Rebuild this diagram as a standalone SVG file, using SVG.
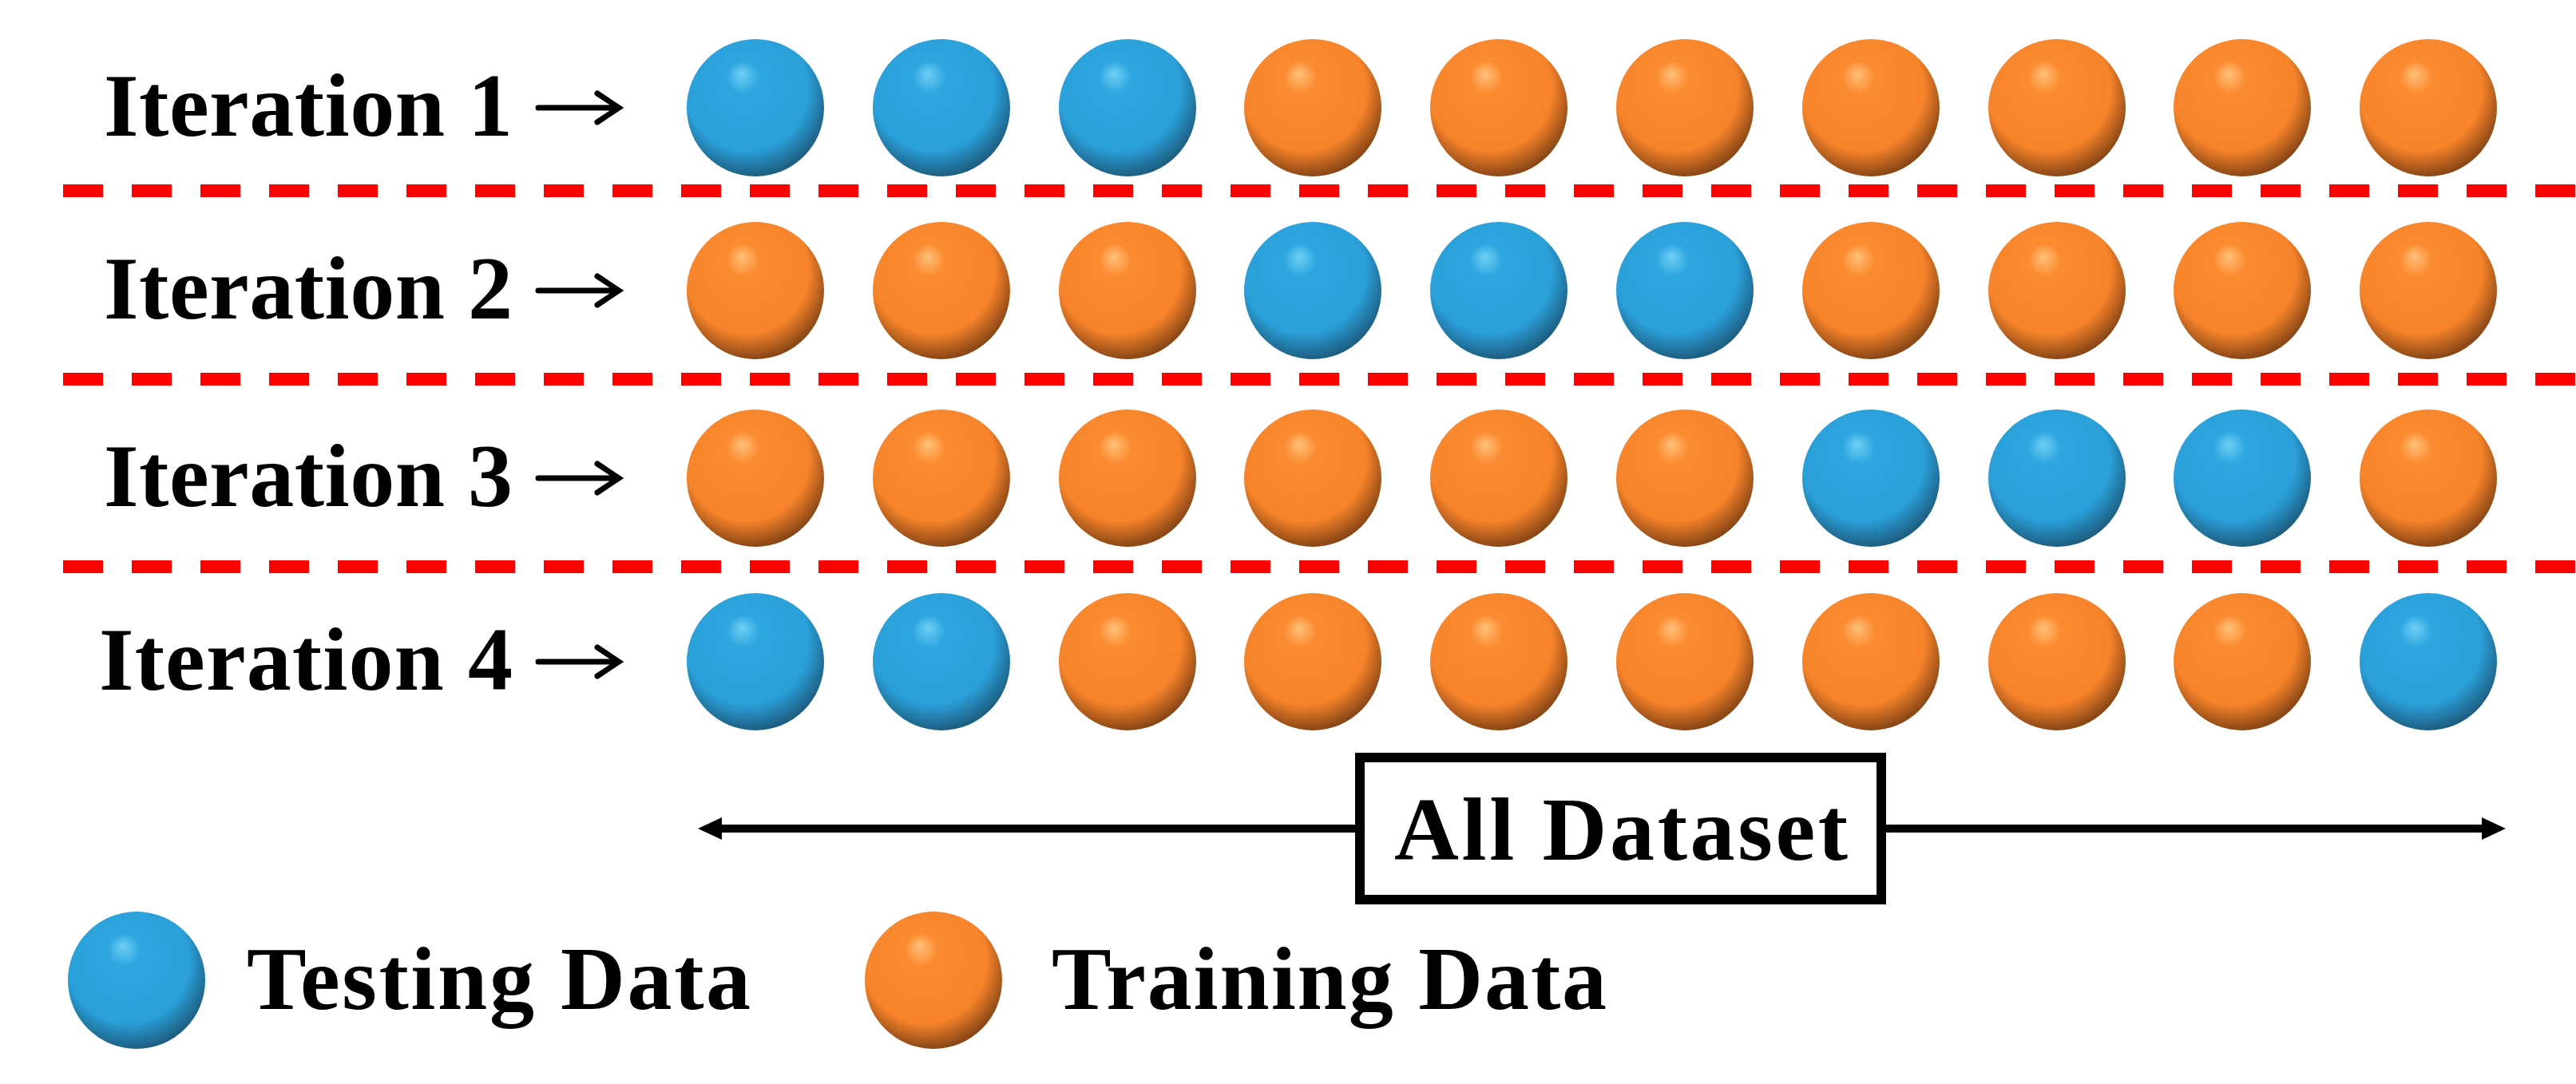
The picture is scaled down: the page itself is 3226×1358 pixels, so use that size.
<svg xmlns="http://www.w3.org/2000/svg" width="3226" height="1358" viewBox="0 0 3226 1358">
<style>
.t{font-family:"Liberation Serif","DejaVu Serif",serif;font-weight:bold;font-size:112px;fill:#000}
.d{stroke:#f00;stroke-width:16;stroke-dasharray:50 36}
.b{fill:url(#gb)}.o{fill:url(#go)}
</style>
<defs>
<radialGradient id="gb" cx="0.45" cy="0.4" r="0.6" fx="0.4" fy="0.25">
<stop offset="0" stop-color="#6fd0f5"/><stop offset="0.2" stop-color="#2ea6e0"/><stop offset="0.75" stop-color="#2a9fd8"/><stop offset="1" stop-color="#1d5f82"/>
</radialGradient>
<radialGradient id="go" cx="0.45" cy="0.4" r="0.6" fx="0.4" fy="0.25">
<stop offset="0" stop-color="#ffc27a"/><stop offset="0.2" stop-color="#fb8b30"/><stop offset="0.75" stop-color="#f7842a"/><stop offset="1" stop-color="#8a4716"/>
</radialGradient>
<marker id="ah" viewBox="0 0 10 10" refX="9" refY="5" markerWidth="4" markerHeight="4" orient="auto-start-reverse" markerUnits="strokeWidth"><path d="M0,0L10,5L0,10L2,5z" fill="#000"/></marker>
</defs>
<g id="labels">
<text class="t" x="130" y="170" textLength="512">Iteration 1</text>
<text class="t" x="130" y="399" textLength="512">Iteration 2</text>
<text class="t" x="130" y="634" textLength="512">Iteration 3</text>
<text class="t" x="124" y="864" textLength="518">Iteration 4</text>
</g>
<g id="connectors" stroke="#000" stroke-width="7" fill="none" stroke-linecap="round">
<path d="M674,135H772M748,117L775,135L748,153"/>
<path d="M674,364H772M748,346L775,364L748,382"/>
<path d="M674,599H772M748,581L775,599L748,617"/>
<path d="M674,829H772M748,811L775,829L748,847"/>
<path d="M900,1038H1697M2362,1038H3110" stroke-width="10" stroke-linecap="butt"/>
<path d="M874,1038L904,1024V1052Z M3138,1038L3108,1024V1052Z" fill="#000" stroke="none"/>
</g>
<g id="dividers">
<line class="d" x1="79" y1="239" x2="3226" y2="239"/>
<line class="d" x1="79" y1="475" x2="3226" y2="475"/>
<line class="d" x1="79" y1="710" x2="3226" y2="710"/>
</g>
<g id="row1">
<circle class="b" cx="946" cy="135" r="86"/><circle class="b" cx="1179" cy="135" r="86"/><circle class="b" cx="1412" cy="135" r="86"/><circle class="o" cx="1644" cy="135" r="86"/><circle class="o" cx="1877" cy="135" r="86"/><circle class="o" cx="2110" cy="135" r="86"/><circle class="o" cx="2343" cy="135" r="86"/><circle class="o" cx="2576" cy="135" r="86"/><circle class="o" cx="2808" cy="135" r="86"/><circle class="o" cx="3041" cy="135" r="86"/>
</g>
<g id="row2">
<circle class="o" cx="946" cy="364" r="86"/><circle class="o" cx="1179" cy="364" r="86"/><circle class="o" cx="1412" cy="364" r="86"/><circle class="b" cx="1644" cy="364" r="86"/><circle class="b" cx="1877" cy="364" r="86"/><circle class="b" cx="2110" cy="364" r="86"/><circle class="o" cx="2343" cy="364" r="86"/><circle class="o" cx="2576" cy="364" r="86"/><circle class="o" cx="2808" cy="364" r="86"/><circle class="o" cx="3041" cy="364" r="86"/>
</g>
<g id="row3">
<circle class="o" cx="946" cy="599" r="86"/><circle class="o" cx="1179" cy="599" r="86"/><circle class="o" cx="1412" cy="599" r="86"/><circle class="o" cx="1644" cy="599" r="86"/><circle class="o" cx="1877" cy="599" r="86"/><circle class="o" cx="2110" cy="599" r="86"/><circle class="b" cx="2343" cy="599" r="86"/><circle class="b" cx="2576" cy="599" r="86"/><circle class="b" cx="2808" cy="599" r="86"/><circle class="o" cx="3041" cy="599" r="86"/>
</g>
<g id="row4">
<circle class="b" cx="946" cy="829" r="86"/><circle class="b" cx="1179" cy="829" r="86"/><circle class="o" cx="1412" cy="829" r="86"/><circle class="o" cx="1644" cy="829" r="86"/><circle class="o" cx="1877" cy="829" r="86"/><circle class="o" cx="2110" cy="829" r="86"/><circle class="o" cx="2343" cy="829" r="86"/><circle class="o" cx="2576" cy="829" r="86"/><circle class="o" cx="2808" cy="829" r="86"/><circle class="b" cx="3041" cy="829" r="86"/>
</g>
<g id="all-dataset">
<rect x="1703" y="949" width="653" height="178" fill="#fff" stroke="#000" stroke-width="12"/>
<text class="t" x="2030" y="1077" text-anchor="middle" textLength="568">All Dataset</text>
</g>
<g id="legend-testing">
<circle class="b" cx="171" cy="1228" r="86"/>
<text class="t" x="309" y="1264" textLength="631">Testing Data</text>
</g>
<g id="legend-training">
<circle class="o" cx="1169" cy="1228" r="86"/>
<text class="t" x="1317" y="1264" textLength="695">Training Data</text>
</g>
</svg>
